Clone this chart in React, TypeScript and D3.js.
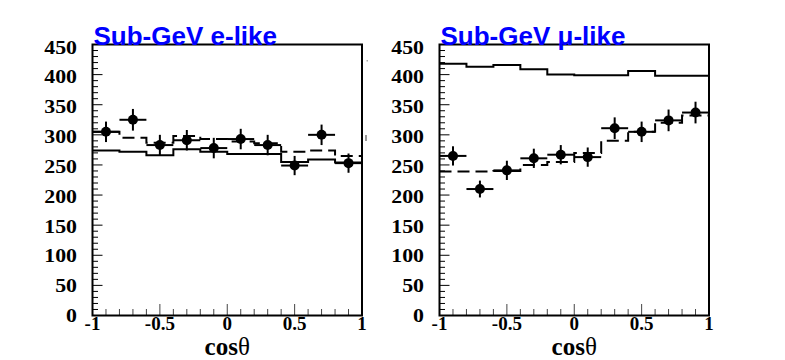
import React from "react";
import * as d3 from "d3";

const binEdges = [-1, -0.8, -0.6, -0.4, -0.2, 0, 0.2, 0.4, 0.6, 0.8, 1];
const binCenters = [-0.9, -0.7, -0.5, -0.3, -0.1, 0.1, 0.3, 0.5, 0.7, 0.9];

// Sub-GeV e-like
const eData = [305, 325, 283, 291, 278, 293, 283, 249, 300, 253];
const eErr = [17, 18, 17, 17, 17, 17, 17, 16, 17, 16];
const eNoOsc = [274, 272, 266, 276, 272, 268, 268, 255, 259, 254];
const eBestFit = [305, 295, 287, 298, 293, 289, 286, 272, 274, 265];

// Sub-GeV mu-like
const mData = [265, 210, 241, 261, 267, 263, 311, 305, 324, 337];
const mErr = [16, 14, 16, 16, 16, 16, 18, 17, 18, 18];
const mNoOsc = [418, 413, 416, 409, 400, 399, 399, 406, 398, 398];
const mBestFit = [239, 239, 240, 250, 255, 270, 290, 305, 320, 332];

const yTickLabels = [0, 50, 100, 150, 200, 250, 300, 350, 400, 450];
const xTickLabels = [-1, -0.5, 0, 0.5, 1];

const W = 785;
const H = 360;
const yTop = 44.5;
const yBot = 315.5;

interface PanelProps {
  x0: number;
  x1: number;
  title: React.ReactNode;
  data: number[];
  err: number[];
  noOsc: number[];
  bestFit: number[];
}

function Panel({ x0, x1, title, data, err, noOsc, bestFit }: PanelProps) {
  const x = d3.scaleLinear().domain([-1, 1]).range([x0, x1]);
  const y = d3.scaleLinear().domain([0, 450]).range([yBot, yTop]);

  const stepPts = (vals: number[]) =>
    binEdges.map((e, i) => [e, vals[Math.min(i, vals.length - 1)]] as [number, number]);
  const line = d3
    .line<[number, number]>()
    .x((d) => x(d[0]))
    .y((d) => y(d[1]))
    .curve(d3.curveStepAfter);

  const yMinor = d3.range(0, 451, 10);
  const xMinor = d3.range(-10, 11).map((i) => i / 10);

  const fmt = (v: number) => (v === 0 ? "0" : String(v));

  return (
    <g>
      {/* histograms */}
      <path d={line(stepPts(noOsc)) || ""} fill="none" stroke="black" strokeWidth={2} />
      <path
        d={line(stepPts(bestFit)) || ""}
        fill="none"
        stroke="black"
        strokeWidth={2}
        strokeDasharray="12,6"
      />
      {/* data points */}
      {binCenters.map((c, i) => (
        <g key={i}>
          <line x1={x(c - 0.1)} x2={x(c + 0.1)} y1={y(data[i])} y2={y(data[i])} stroke="black" strokeWidth={2} />
          <line x1={x(c)} x2={x(c)} y1={y(data[i] - err[i])} y2={y(data[i] + err[i])} stroke="black" strokeWidth={2} />
          <circle cx={x(c)} cy={y(data[i])} r={5} fill="black" />
        </g>
      ))}
      {/* ticks */}
      {yMinor.map((v) => (
        <line
          key={"yt" + v}
          x1={x0}
          x2={x0 + (v % 50 === 0 ? 10 : 5.5)}
          y1={y(v)}
          y2={y(v)}
          stroke="black"
          strokeWidth={1}
        />
      ))}
      {xMinor.map((v) => {
        const major = Math.abs(Math.round(v * 10) % 5) === 0;
        return (
          <line
            key={"xt" + v}
            x1={x(v)}
            x2={x(v)}
            y1={yBot}
            y2={yBot - (major ? 11.5 : 6.5)}
            stroke="#444"
            strokeWidth={1}
          />
        );
      })}
      <rect x={x0} y={yTop} width={x1 - x0} height={yBot - yTop} fill="none" stroke="black" strokeWidth={2} />
      <text
        x={x0 + 1}
        y={yTop + 0.5}
        fill="#0000ff"
        fontFamily="'Liberation Sans', Arial, sans-serif"
        fontWeight="bold"
        fontSize={26}
      >
        {title}
      </text>
      {/* y labels */}
      {yTickLabels.map((v) => (
        <text
          key={"yl" + v}
          transform={`translate(${x0 - 15.5},${y(v) + 6.5 + (v / 450) * 2.5}) scale(1.15,1)`}
          textAnchor="end"
          fontFamily="'Liberation Serif', 'Times New Roman', serif"
          fontWeight="bold"
          fontSize={19}
          fill="black"
        >
          {fmt(v)}
        </text>
      ))}
      {/* x labels */}
      {xTickLabels.map((v) => (
        <text
          key={"xl" + v}
          x={x(v)}
          y={330}
          textAnchor="middle"
          fontFamily="'Liberation Serif', 'Times New Roman', serif"
          fontWeight="bold"
          fontSize={19}
          fill="black"
        >
          {fmt(v)}
        </text>
      ))}
      <text
        x={(x0 + x1) / 2}
        y={355}
        textAnchor="middle"
        fontFamily="'Liberation Serif', 'Times New Roman', serif"
        fontWeight="bold"
        fontSize={25}
        fill="black"
      >
        cos<tspan fontWeight="normal">θ</tspan>
      </text>
    </g>
  );
}

export default function App() {
  return (
    <svg
      width={W}
      height={H}
      style={{ position: "absolute", left: 0, top: 0, background: "white" }}
    >
      <rect x={0} y={0} width={W} height={H} fill="white" />
      <Panel
        x0={92.5}
        x1={362}
        title="Sub-GeV e-like"
        data={eData}
        err={eErr}
        noOsc={eNoOsc}
        bestFit={eBestFit}
      />
      <Panel
        x0={439.5}
        x1={709}
        title="Sub-GeV μ-like"
        data={mData}
        err={mErr}
        noOsc={mNoOsc}
        bestFit={mBestFit}
      />
      <rect x={366.5} y={60} width={1.5} height={1.5} fill="#aaa" />
      <rect x={365} y={135} width={2} height={6} fill="#999" />
    </svg>
  );
}
